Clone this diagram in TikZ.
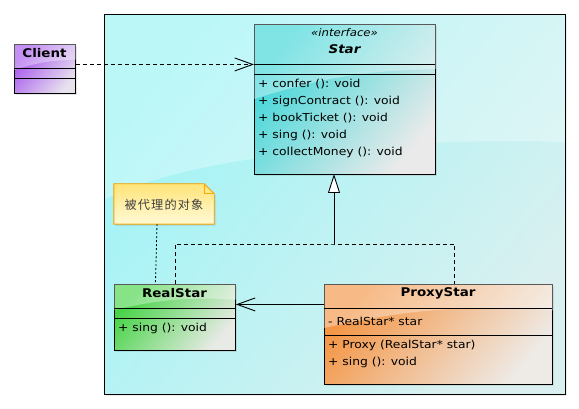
\documentclass[tikz,border=0pt]{standalone}
\usepackage{fontspec}
\setmainfont{DejaVu Sans}[FakeStretch=1.12]
\newfontfamily\cjk{Noto Sans CJK SC}[LetterSpace=9]
\usetikzlibrary{arrows.meta,shadows}

\definecolor{pkgA}{RGB}{160,244,246}
\definecolor{pkgB}{RGB}{218,240,240}
\definecolor{clientA}{RGB}{165,85,238}
\definecolor{clientB}{RGB}{232,226,238}
\definecolor{starA}{RGB}{60,214,216}
\definecolor{starB}{RGB}{234,234,234}
\definecolor{realA}{RGB}{70,212,70}
\definecolor{realB}{RGB}{232,234,230}
\definecolor{proxyA}{RGB}{244,150,70}
\definecolor{proxyB}{RGB}{238,234,230}
\definecolor{noteA}{RGB}{255,228,120}
\definecolor{noteB}{RGB}{255,250,215}
\definecolor{noteline}{RGB}{255,170,0}

% white sheen over the upper part of a box
\newcommand\shine[2]{%
  \fill[white, opacity=0.35] (#1.north west) -- ([yshift=-#2]#1.north west)
    to[bend left=8] ([yshift=-0.6*#2]#1.north east) -- (#1.north east) -- cycle;}

\begin{document}
\begin{tikzpicture}[x=1pt, y=-1pt,
  font=\fontsize{11}{13}\selectfont,
  box/.style={draw, line width=0.9pt, inner sep=0pt, anchor=north west,
    drop shadow={shadow xshift=2pt, shadow yshift=-2pt, opacity=0.2}},
  gloss/.style={top color=#1A, bottom color=#1B, shading angle=50},
  title/.style={font=\fontsize{12}{14}\selectfont\bfseries},
  member/.style={anchor=west, inner sep=0pt},
  dep/.style={dash pattern=on 4pt off 3pt, -{Straight Barb[length=18pt, width=13pt]}},
  assoc/.style={-{Straight Barb[length=18pt, width=13pt]}},
  realize/.style={-{Triangle[open, fill=white, length=19pt, width=12pt]}}]

\useasboundingbox (0,0) rectangle (579,409);

% package frame
\node[draw, line width=0.9pt, inner sep=0pt, anchor=north west, gloss=pkg,
  minimum width=461pt, minimum height=380pt,
  drop shadow={shadow xshift=2pt, shadow yshift=-2pt, opacity=0.15}] (pkg) at (104,14) {};
\begin{scope}
  \clip (104,14) rectangle (565,394);
  \fill[white, opacity=0.3] (104,14) -- (565,14) -- (565,142)
    .. controls (420,138) and (200,150) .. (104,200) -- cycle;
\end{scope}
\draw[line width=0.9pt] (104,14) rectangle (565,394);

% Client
\node[box, gloss=client, minimum width=61pt, minimum height=49pt] (client) at (14,44) {};
\shine{client}{26pt}
\node[title] (client-t) at (44.5,53) {Client};
\draw[line width=0.9pt] (14,68) -- (75,68)
                        (14,78) -- (75,78);

% Star
\node[box, gloss=star, minimum width=181pt, minimum height=150pt] (star) at (254,24) {};
\shine{star}{75pt}
\node[font=\fontsize{10.5}{12}\selectfont\itshape] (star-s) at (344.5,33) {«interface»};
\node[title, font=\fontsize{12}{14}\selectfont\bfseries\itshape] (star-t) at (344.5,49) {Star};
\draw[line width=0.9pt] (254,64) -- (435,64)
                        (254,74) -- (435,74);
\foreach \m [count=\i from 0] in {confer (): void, signContract (): void,
    bookTicket (): void, sing (): void, collectMoney (): void}
  \node[member] (star-m\i) at (258,84+17*\i) {+ \m};

% RealStar
\node[box, gloss=real, minimum width=121pt, minimum height=66pt] (real) at (114,284) {};
\shine{real}{26pt}
\node[title] (real-t) at (174.5,293) {RealStar};
\draw[line width=0.9pt] (114,308) -- (235,308)
                        (114,318) -- (235,318);
\node[member] (real-m0) at (118,328) {+ sing (): void};

% ProxyStar
\node[box, gloss=proxy, minimum width=228pt, minimum height=100pt] (proxy) at (324,284) {};
\shine{proxy}{44pt}
\node[title] (proxy-t) at (438,293) {ProxyStar};
\draw[line width=0.9pt] (324,308) -- (552,308)
                        (324,335) -- (552,335);
\node[member] (proxy-a0) at (328,321) {- RealStar* star};
\node[member] (proxy-m0) at (328,345) {+ Proxy (RealStar* star)};
\node[member] (proxy-m1) at (328,362) {+ sing (): void};

% note
\node[minimum width=100pt, minimum height=40pt, inner sep=0pt] (note) at (164,204) {};
\filldraw[draw=noteline, line width=0.9pt, top color=noteA, bottom color=noteB,
  drop shadow={shadow xshift=2pt, shadow yshift=-2pt, opacity=0.15}]
  (note.north west) -- ([xshift=-10pt]note.north east)
  -- ([yshift=-10pt]note.north east) -- (note.south east)
  -- (note.south west) -- cycle;
\draw[draw=noteline, line width=0.7pt] ([xshift=-10pt]note.north east)
  -- ([xshift=-10pt, yshift=-10pt]note.north east) -- ([yshift=-10pt]note.north east);
\node[font=\cjk\fontsize{12.2}{14}\selectfont, text=black!75] (note-t) at ([xshift=0pt, yshift=-1pt]note) {被代理的对象};
\draw[line width=0.8pt, dash pattern=on 2pt off 2pt] ([xshift=-7pt]note.south) -- ([xshift=-19.5pt]real.north);

% connectors
\coordinate (tri) at (334,174);
\coordinate (fork) at (334,244);
\draw[line width=0.9pt, dep] ([yshift=4.5pt]client.east) -- ([yshift=35pt]star.west);
\draw[line width=0.9pt, realize] (fork) -- (tri);
\draw[line width=0.9pt, dash pattern=on 4pt off 3pt] (real.north) |- (fork) -| ([xshift=16pt]proxy.north);
\draw[line width=0.9pt, assoc] ([yshift=30pt]proxy.west) -- ([yshift=13pt]real.east);

\end{tikzpicture}
\end{document}
